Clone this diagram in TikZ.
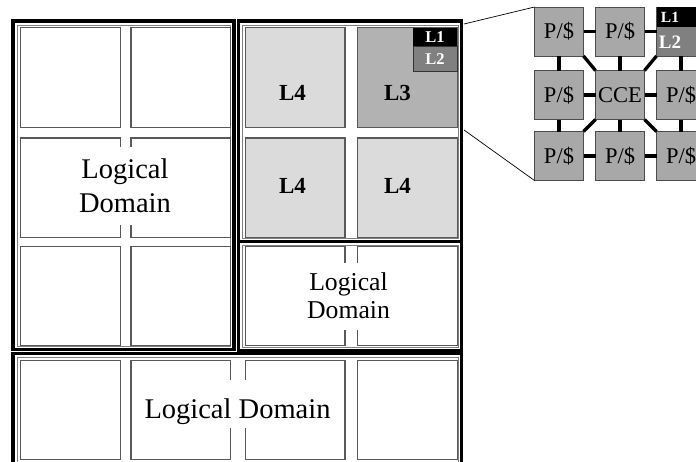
\documentclass[tikz,border=0pt]{standalone}
\usepackage{fontspec}
\setmainfont{Liberation Serif}
\usetikzlibrary{positioning}

\begin{document}
\begin{tikzpicture}[x=1pt,y=-1pt,
  tile/.style={draw=black!65,line width=1.1pt,fill=white,minimum size=99.5pt,inner sep=0pt,outer sep=0pt},
  pbox/.style={draw=black!70,line width=0.8pt,fill=black!34,minimum size=49pt,inner sep=0pt,outer sep=0pt,font=\fontsize{22.5}{24}\selectfont},
  link/.style={line width=3.3pt},
  dom/.style={line width=3.4pt},
  domin/.style={draw=black!50,line width=1pt},
  dname/.style={font=\fontsize{28.5}{34}\selectfont,align=center,inner sep=0pt},
  lvl/.style={font=\fontsize{23}{25}\selectfont\bfseries,inner sep=0pt},
  cache/.style={text=white,font=\fontsize{16.5}{17}\selectfont\bfseries,inner sep=0pt,outer sep=0pt,minimum width=44pt}]
  \useasboundingbox (0,0) rectangle (696,461);
  \clip (0,0) rectangle (696,461);
  % dominios: linea negra y linea gris interior
  \draw[dom] (13,21) rectangle (234,349.5);
  \draw[dom] (238.5,21) rectangle (461.5,241.5);
  \draw[dom] (238.5,241.5) rectangle (461.5,350.5);
  \draw[dom] (13,353.5) rectangle (461.5,480);
  \draw[domin] (17,25) rectangle (230.8,346.5);
  \draw[domin] (242.3,25) rectangle (458.3,238);
  \draw[domin] (242.3,245) rectangle (458.3,347);
  \draw[domin] (17,357.3) rectangle (458.3,480);
  % tiles, fila 1
  \node[tile] (t11) at (70.5,77.5) {};
  \node[tile] (t12) at (180.7,77.5) {};
  \node[tile,fill=black!14] (t13) at (295.2,77.5) {};
  \node[tile,fill=black!30] (t14) at (407.3,77.5) {};
  % fila 2
  \node[tile] (t21) at (70.5,187.7) {};
  \node[tile] (t22) at (180.7,187.7) {};
  \node[tile,fill=black!14] (t23) at (295.2,187.7) {};
  \node[tile,fill=black!14] (t24) at (407.3,187.7) {};
  % fila 3
  \node[tile] (t31) at (70.5,296) {};
  \node[tile] (t32) at (180.7,296) {};
  \node[tile] (t33) at (295.2,296) {};
  \node[tile] (t34) at (407.3,296) {};
  % fila 4
  \node[tile] (t41) at (70.5,410) {};
  \node[tile] (t42) at (180.7,410) {};
  \node[tile] (t43) at (295.2,410) {};
  \node[tile] (t44) at (407.3,410) {};
  % nombres de dominio sobre fondo blanco
  \fill[white] (72,147) rectangle (178,225);
  \fill[white] (298,263) rectangle (402,330);
  \fill[white] (139,380) rectangle (337,428);
  \node[dname] (dleft) at (125,185.5) {Logical\\Domain};
  \node[dname,font=\fontsize{25.7}{27.6}\selectfont] (dmid) at (348.5,296) {Logical\\Domain};
  \node[dname,anchor=base] (dbot) at (237.5,418) {Logical Domain};
  % niveles
  \node[lvl,anchor=base] (v13) at (292.5,100) {L4};
  \node[lvl,anchor=base] (v14) at (397.5,100) {L3};
  \node[lvl,anchor=base] (v23) at (292.5,193.5) {L4};
  \node[lvl,anchor=base] (v24) at (397.5,193.5) {L4};
  \node[cache,fill=black,minimum height=18.5pt,anchor=north east] (c1) at (t14.north east) {L1};
  \node[cache,fill=black!50,draw=black!80,line width=0.8pt,minimum height=25.5pt,below=0pt of c1] (c2) {L2};
  % detalle ampliado
  \node[pbox] (p11) at (559,31.5) {P/\$};
  \node[pbox] (p12) at (620,31.5) {P/\$};
  \node[pbox,fill=black!50] (p13) at (681,31.5) {};
  \node[pbox] (p21) at (559,95) {P/\$};
  \node[pbox] (cce) at (620,95) {CCE};
  \node[pbox] (p23) at (681,95) {P/\$};
  \node[pbox] (p31) at (559,156) {P/\$};
  \node[pbox] (p32) at (620,156) {P/\$};
  \node[pbox] (p33) at (681,156) {P/\$};
  \fill (656.5,7) rectangle (705.5,27);
  \node[cache,minimum width=0pt,font=\fontsize{15.5}{16}\selectfont\bfseries] (i1) at (670,17) {L1};
  \node[cache,minimum width=0pt,font=\fontsize{19}{20}\selectfont\bfseries] (i2) at (670,42) {L2};
  \draw[link] (p11) -- (p12);
  \draw[link] (p12) -- (p13);
  \draw[link] (p21) -- (cce);
  \draw[link] (cce) -- (p23);
  \draw[link] (p31) -- (p32);
  \draw[link] (p32) -- (p33);
  \draw[link] (p11) -- (p21);
  \draw[link] (p21) -- (p31);
  \draw[link] (p12) -- (cce);
  \draw[link] (cce) -- (p32);
  \draw[link] (p13) -- (p23);
  \draw[link] (p23) -- (p33);
  \draw[link] (p11.south east) -- (cce.north west);
  \draw[link] (p13.south west) -- (cce.north east);
  \draw[link] (p31.north east) -- (cce.south west);
  \draw[link] (p33.north west) -- (cce.south east);
  % lineas de zoom
  \coordinate (z1) at (464,24);
  \coordinate (z2) at (464,130);
  \draw[line width=0.7pt] (z1) -- (p11.north west);
  \draw[line width=0.7pt] (z2) -- (p31.south west);
\end{tikzpicture}
\end{document}
